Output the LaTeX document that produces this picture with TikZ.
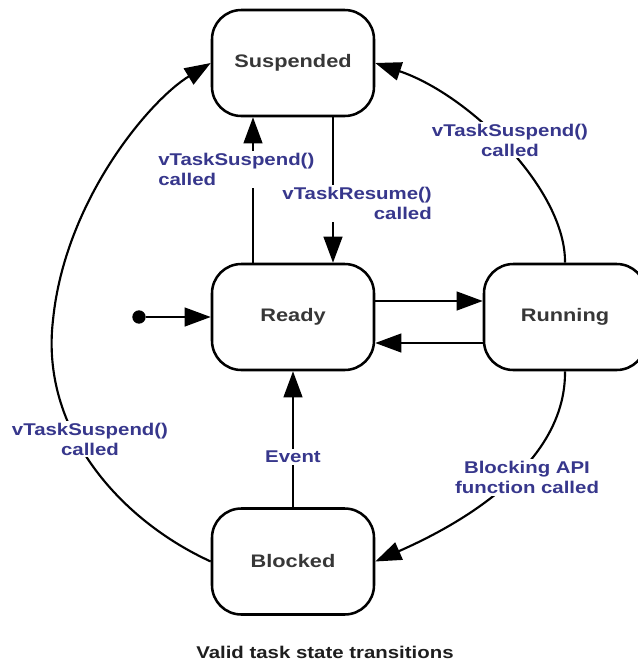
\documentclass[tikz,border=0pt]{standalone}
\usepackage{fontspec}
\setmainfont{Liberation Sans}[FakeStretch=1.2]
\usetikzlibrary{arrows.meta}
\definecolor{lblue}{RGB}{55,55,140}
\definecolor{stext}{RGB}{55,55,55}
\definecolor{ctext}{RGB}{30,30,30}
\begin{document}
\begin{tikzpicture}[x=0.75pt,y=-0.75pt,
  state/.style={draw, line width=1.9pt, rounded corners=22pt,
    minimum width=121.5pt, minimum height=79.5pt, inner sep=0pt,
    font=\bfseries\fontsize{13.6pt}{16pt}\selectfont, text=stext},
  lbl/.style={fill=white, inner sep=1.5pt,
    font=\bfseries\fontsize{12.75pt}{15pt}\selectfont, text=lblue},
  conn/.style={line width=1.6pt, -{Triangle[length=19.5pt,width=14pt]}}]
\useasboundingbox (0,0) rectangle (637,662);

\node[state] (susp)  at (293,63)    {Suspended};
\node[state] (ready) at (293,317)   {Ready};
\node[state] (run)   at (565,317)   {Running};
\node[state] (block) at (293,561.5) {Blocked};
\node[circle, fill, inner sep=0pt, minimum size=10pt] (init) at (139,317) {};

\draw[conn] (init) -- (ready);
\draw[conn] ([yshift=12pt]ready.east) -- ([yshift=12pt]run.west);
\draw[conn] ([yshift=-19.5pt]run.west) -- ([yshift=-19.5pt]ready.east);
\draw[conn] ([xshift=-30pt]ready.north) -- ([xshift=-30pt]susp.south);
\draw[conn] ([xshift=30pt]susp.south) -- ([xshift=30pt]ready.north);
\draw[conn] (block) -- (ready);
\draw[conn] (run.north) .. controls (566,190) and (470,95) .. (susp.east);
\draw[conn] (block.west) .. controls (120,520) and (40,430) .. (53,320)
  .. controls (65,200) and (150,100) .. (susp.west);
\draw[conn] (run.south) .. controls (566,460) and (470,520) .. (block.east);

\node[lbl, align=left, anchor=west] (l1) at (156,169.5) {vTaskSuspend()\\called};
\node[lbl, align=right, anchor=east] (l2) at (434,203.5) {vTaskResume()\\called};
\node[lbl, align=center] (l3) at (510,140) {vTaskSuspend()\\called};
\node[lbl, align=center] (l4) at (90,439) {vTaskSuspend()\\called};
\node[lbl, align=center] (l5) at (527,477.5) {Blocking API\\function called};
\node[lbl] (l6) at (293,457) {Event};
\node[anchor=base west, inner sep=0pt, text=ctext,
  font=\bfseries\fontsize{12.75pt}{15pt}\selectfont] (cap) at (196,658)
  {Valid task state transitions};
\end{tikzpicture}
\end{document}
